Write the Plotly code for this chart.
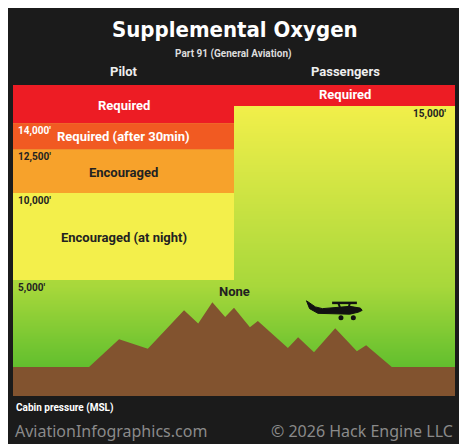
import plotly.graph_objects as go
import numpy as np

# --- data ---
pilot_labels = ["Encouraged (at night)", "Encouraged", "Required (after 30min)", "Required"]
pilot_bases = [5000, 10000, 12500, 14000]
pilot_tops = [10000, 12500, 14000, 17000]
pilot_colors = ["#f3ef4b", "#f7a22b", "#f15a22", "#ed1c24"]
pilot_text_colors = ["#222222", "#222222", "white", "white"]
pilot_label_y = [7410, 11200, 13220, 15040]
pass_base = 15000
pass_label_y = 15630
none_label_y = 4310
alt_ticks = [5000, 10000, 12500, 14000, 15000]
alt_tick_labels = ["5,000′", "10,000′", "12,500′", "14,000′", "15,000′"]
mountain_x = [0, 0.172, 0.240, 0.305, 0.387, 0.419, 0.451, 0.480, 0.5, 0.536, 0.554,
              0.622, 0.645, 0.681, 0.729, 0.778, 0.799, 0.857, 1]
mountain_y = [0, 0, 1592, 1052, 3259, 2489, 3718, 2874, 3408, 2282, 2644,
              1092, 1707, 845, 2224, 902, 1247, 0, 0]
YMIN, YMAX = -1670, 16200

fig = go.Figure()
gy = np.linspace(YMIN, 15000, 120)
fig.add_trace(go.Heatmap(x=[0, 1], y=gy, z=[[v, v] for v in gy], showscale=False,
                         colorscale=[[0, "#58bb2b"], [0.1, "#62bf2e"], [0.38, "#a8d83b"], [1, "#f2ef4a"]],
                         hoverinfo="skip", zsmooth="best"))
fig.add_trace(go.Bar(x=[0.75], y=[YMAX + 500 - pass_base], base=[pass_base], width=0.5,
                     marker=dict(color="#ed1c24", line_width=0), hoverinfo="skip"))
for lab, b, t, c in zip(pilot_labels, pilot_bases, pilot_tops, pilot_colors):
    fig.add_trace(go.Bar(x=[0.25], y=[t - b], base=[b], width=0.5,
                         marker=dict(color=c, line_width=0), hoverinfo="skip"))
mx = [-0.01] + mountain_x[1:-1] + [1.01]
fig.add_trace(go.Scatter(x=mx + [1.01, -0.01], y=mountain_y + [YMIN - 500, YMIN - 500],
                         fill="toself", fillcolor="#82532f", line=dict(width=0), mode="lines", hoverinfo="skip"))

# airplane silhouette (rough)
px = [0.664, 0.671, 0.690, 0.740, 0.762, 0.782, 0.790, 0.786, 0.762, 0.700, 0.684, 0.664]
py = [3800, 3350, 3080, 3030, 3030, 3150, 3250, 3380, 3480, 3350, 3450, 3800]
fig.add_trace(go.Scatter(x=px, y=py, fill="toself", fillcolor="#111", line=dict(width=1, color="#111"),
                         mode="lines", hoverinfo="skip"))
fig.add_trace(go.Scatter(x=[0.722, 0.778], y=[3680, 3680], mode="lines", line=dict(color="#111", width=2.5), hoverinfo="skip"))
fig.add_trace(go.Scatter(x=[0.736, 0.740, None, 0.762, 0.760], y=[3680, 3400, None, 3680, 3450], mode="lines",
                         line=dict(color="#111", width=2), hoverinfo="skip"))
fig.add_trace(go.Scatter(x=[0.742, 0.770], y=[2820, 2820], mode="markers", marker=dict(color="#111", size=5), hoverinfo="skip"))

ann = []
for lab, tc, yy in zip(pilot_labels, pilot_text_colors, pilot_label_y):
    ann.append(dict(x=0.25, y=yy, text=f"<b>{lab}</b>", showarrow=False,
                    font=dict(color=tc, size=13, family="Roboto")))
ann.append(dict(x=0.75, y=pass_label_y, text="<b>Required</b>", showarrow=False,
                font=dict(color="white", size=13, family="Roboto")))
ann.append(dict(x=0.5, y=none_label_y, text="<b>None</b>", showarrow=False,
                font=dict(color="#222", size=13, family="Roboto")))
for v, t in zip(alt_ticks, alt_tick_labels):
    if v == 15000:
        ann.append(dict(x=0.985, y=v, text=f"<b>{t}</b>", showarrow=False, xanchor="right", yanchor="top",
                        font=dict(color="#222", size=10, family="Roboto")))
    else:
        ann.append(dict(x=0.006, y=v, text=f"<b>{t}</b>", showarrow=False, xanchor="left", yanchor="top",
                        font=dict(color="white" if v == 14000 else "#222", size=10, family="Roboto")))

OFF = 8  # browser body margin
paper_txt = [
    (235, 29, "<b>Supplemental Oxygen</b>", 22, "white", "DejaVu Sans Condensed", "center"),
    (233, 54, "<b>Part 91 (General Aviation)</b>", 10, "#dddddd", "Roboto", "center"),
    (124, 72, "<b>Pilot</b>", 13, "#eeeeee", "Roboto", "center"),
    (345, 72, "<b>Passengers</b>", 13, "#eeeeee", "Roboto", "center"),
    (14, 408, "<b>Cabin pressure (MSL)</b>", 10, "white", "Roboto", "left"),
    (13, 431, "AviationInfographics.com", 16, "#8a8a8a", "Noto Sans", "left"),
    (455, 431, "© 2026 Hack Engine LLC", 16, "#8a8a8a", "Noto Sans", "right"),
]
L, R, T, B = 13, 455, 85, 396
for xp, yp, t, s, c, f, a in paper_txt:
    ann.append(dict(xref="paper", yref="paper", x=(xp - L) / (R - L), y=(B - yp) / (B - T), text=t,
                    showarrow=False, xanchor=a, yanchor="middle", font=dict(size=s, color=c, family=f)))

fig.update_layout(width=467 - OFF, height=444 - OFF,
                  margin=dict(l=L - OFF, r=467 - R, t=T - OFF, b=444 - B, pad=0),
                  paper_bgcolor="#1b1b1b", plot_bgcolor="#1b1b1b", showlegend=False, barmode="overlay",
                  xaxis=dict(range=[0, 1], visible=False, fixedrange=True),
                  yaxis=dict(range=[YMIN, YMAX], visible=False, fixedrange=True),
                  annotations=ann)
fig.write_html("out.html")
